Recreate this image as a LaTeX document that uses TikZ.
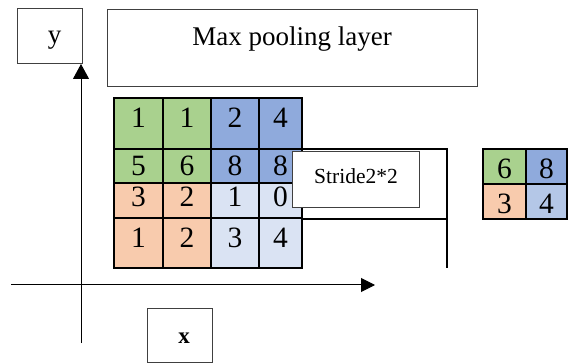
\documentclass[tikz,border=0pt]{standalone}
\usepackage{fontspec}
\setmainfont{Liberation Serif}
\usetikzlibrary{arrows.meta}
\definecolor{cgreen}{HTML}{A9D18E}
\definecolor{cblue}{HTML}{8FAADC}
\definecolor{corange}{HTML}{F8CBAD}
\definecolor{clight}{HTML}{DAE3F3}
\definecolor{cmid}{HTML}{B4C7E7}
\begin{document}
\begin{tikzpicture}[x=1pt,y=-1pt,
  box/.style={draw=black!75, line width=1pt, fill=white, inner sep=0pt},
  cell/.style={draw=black, line width=1.8pt, inner sep=0pt, font=\fontsize{29.5}{29.5}\selectfont},
  rA/.style={minimum height=51pt, text height=20pt, text depth=11pt},
  rB/.style={minimum height=34pt, text height=20pt, text depth=0pt},
  rC/.style={minimum height=35pt, text height=20pt, text depth=7pt},
  rD/.style={minimum height=50pt, text height=20pt, text depth=11pt},
  rO/.style={minimum height=35pt, text height=24pt, text depth=0pt},
  axis/.style={draw=black, line width=1pt},
  winline/.style={draw=black, line width=1.8pt}
]
\useasboundingbox (0,0) rectangle (570,363);

% title box
\node[box, minimum width=370pt, minimum height=77pt, text height=18pt, text depth=23pt,
      font=\fontsize{27}{27}\selectfont] (title) at (292,48.5) {Max pooling layer};

% y and x label boxes
\node[box, minimum width=65pt, minimum height=55pt, text height=15pt, text depth=0pt,
      font=\fontsize{27}{27}\selectfont] (ylab) at (49.5,36.5) {\hspace*{10pt}y};
\node[box, minimum width=65pt, minimum height=54pt, text height=16.6pt, text depth=0pt,
      font=\fontsize{23}{23}\selectfont\bfseries] (xlab) at (179.5,335) {\hspace*{9pt}x};

% axes
\coordinate (yb) at (81,343);
\coordinate (yt) at (81,64);
\coordinate (xl) at (11,285);
\coordinate (xr) at (375,285);
\draw[axis, -{Triangle[width=16pt,length=15pt]}] (yb) -- (yt);
\draw[axis, -{Triangle[width=14pt,length=14pt]}] (xl) -- (xr);

% input grid
\node[cell, rA, fill=cgreen, minimum width=49pt] (a11) at (138.5,123.5) {1};
\node[cell, rA, fill=cgreen, minimum width=48pt] (a12) at (187,123.5) {1};
\node[cell, rA, fill=cblue,  minimum width=48pt] (a13) at (235,123.5) {2};
\node[cell, rA, fill=cblue,  minimum width=43pt] (a14) at (280.5,123.5) {4};

\node[cell, rB, fill=cgreen, minimum width=49pt] (a21) at (138.5,166) {5};
\node[cell, rB, fill=cgreen, minimum width=48pt] (a22) at (187,166) {6};
\node[cell, rB, fill=cblue,  minimum width=48pt] (a23) at (235,166) {8};
\node[cell, rB, fill=cblue,  minimum width=43pt] (a24) at (280.5,166) {8};

\node[cell, rC, fill=corange, minimum width=49pt] (a31) at (138.5,200.5) {3};
\node[cell, rC, fill=corange, minimum width=48pt] (a32) at (187,200.5) {2};
\node[cell, rC, fill=clight,  minimum width=48pt] (a33) at (235,200.5) {1};
\node[cell, rC, fill=clight,  minimum width=43pt] (a34) at (280.5,200.5) {0};

\node[cell, rD, fill=corange, minimum width=49pt] (a41) at (138.5,243) {1};
\node[cell, rD, fill=corange, minimum width=48pt] (a42) at (187,243) {2};
\node[cell, rD, fill=clight,  minimum width=48pt] (a43) at (235,243) {3};
\node[cell, rD, fill=clight,  minimum width=43pt] (a44) at (280.5,243) {4};

% stride window lines
\coordinate (w1) at (302,149);
\coordinate (w2) at (447,149);
\coordinate (w3) at (447,268);
\coordinate (m1) at (302,219);
\coordinate (m2) at (447,219);
\draw[winline] (w1) -- (w2) -- (w3);
\draw[winline] (m1) -- (m2);

% stride box
\node[box, minimum width=127pt, minimum height=56pt, text height=14pt, text depth=7.4pt,
      font=\fontsize{21.5}{21.5}\selectfont] (stride) at (356,180) {Stride2*2};

% output grid
\node[cell, rO, fill=cgreen,  minimum width=43pt] (o11) at (504.5,166.5) {6};
\node[cell, rO, fill=cblue,   minimum width=41pt] (o12) at (546.5,166.5) {8};
\node[cell, rO, fill=corange, minimum width=43pt] (o21) at (504.5,201.5) {3};
\node[cell, rO, fill=cmid,    minimum width=41pt] (o22) at (546.5,201.5) {4};
\end{tikzpicture}
\end{document}
